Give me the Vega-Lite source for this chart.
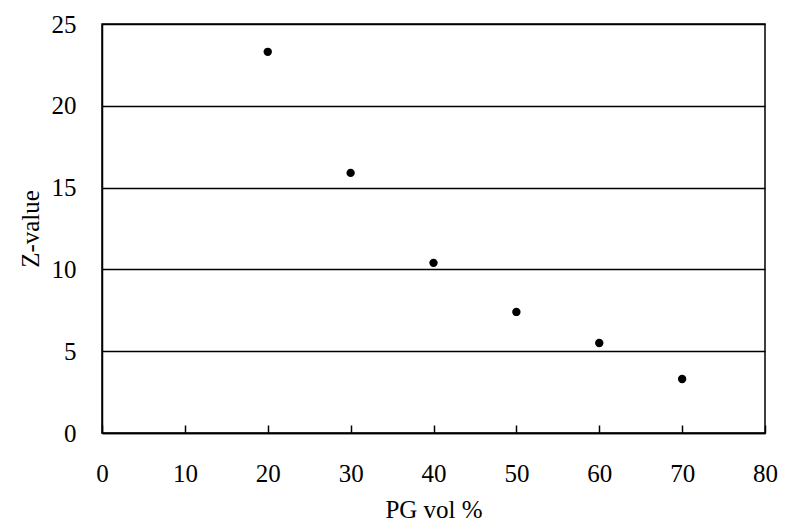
{
  "$schema": "https://vega.github.io/schema/vega-lite/v6.json",
  "width": 663,
  "height": 409,
  "autosize": "none",
  "padding": {"left": 102, "top": 24, "right": 26, "bottom": 99},
  "background": "white",
  "config": {
    "view": {"stroke": "black", "strokeWidth": 1.5},
    "font": "Liberation Serif"
  },
  "data": {
    "values": [
      {"pg": 20, "z": 23.3},
      {"pg": 30, "z": 15.9},
      {"pg": 40, "z": 10.4},
      {"pg": 50, "z": 7.4},
      {"pg": 60, "z": 5.5},
      {"pg": 70, "z": 3.3}
    ]
  },
  "mark": {"type": "circle", "color": "black", "opacity": 1, "size": 70},
  "encoding": {
    "x": {
      "field": "pg", "type": "quantitative",
      "scale": {"domain": [0, 80], "nice": false},
      "axis": {
        "title": "PG vol %", "values": [0,10,20,30,40,50,60,70,80],
        "grid": false, "domainColor": "black", "domainWidth": 1.5,
        "tickColor": "black", "tickWidth": 1.5, "tickSize": -8,
        "labelFlush": false, "labelOverlap": false,
        "labelFontSize": 25, "labelColor": "black", "labelPadding": 36,
        "titleFontSize": 25, "titleFontWeight": "normal", "titleColor": "black", "titlePadding": 11
      }
    },
    "y": {
      "field": "z", "type": "quantitative",
      "scale": {"domain": [0, 25], "nice": false},
      "axis": {
        "title": "Z-value", "values": [0,5,10,15,20,25],
        "grid": true, "gridColor": "black", "gridWidth": 1.5, "gridOpacity": 1,
        "domainColor": "black", "domainWidth": 1.5,
        "ticks": false, "labelFlush": false, "labelOverlap": false,
        "labelFontSize": 25, "labelColor": "black", "labelPadding": 26,
        "titleFontSize": 25, "titleFontWeight": "normal", "titleColor": "black", "titlePadding": 8
      }
    }
  }
}
